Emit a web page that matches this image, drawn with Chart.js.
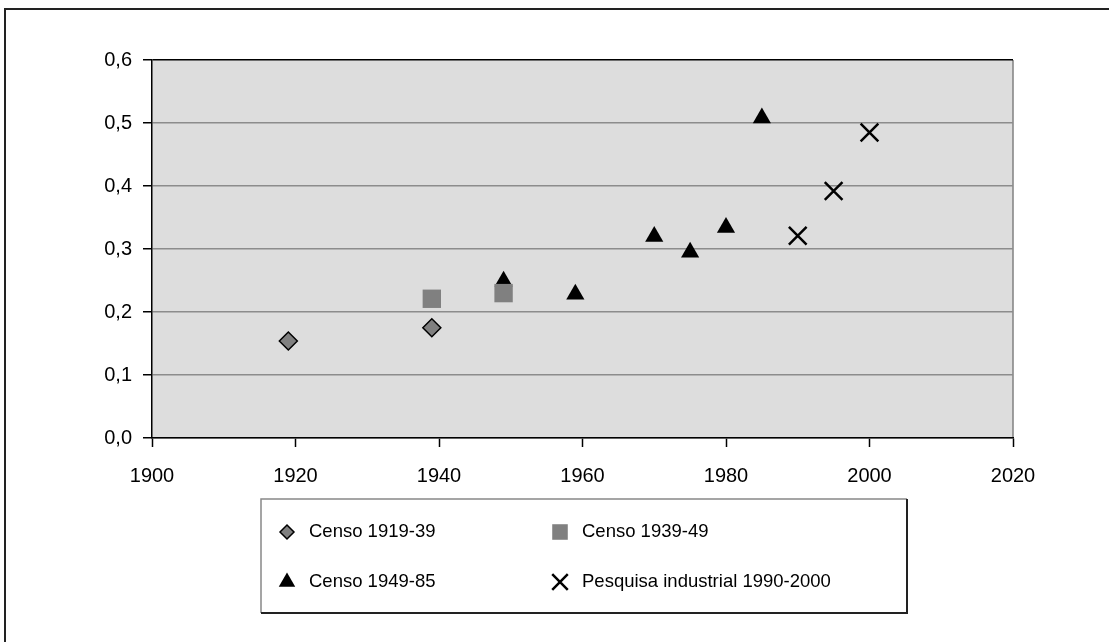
<!DOCTYPE html>
<html>
<head>
<meta charset="utf-8">
<script src="https://cdn.jsdelivr.net/npm/chart.js@4"></script>
<style>
    html, body { margin: 0; padding: 0; background: #ffffff; }
    #wrap { position: relative; width: 1109px; height: 642px; overflow: hidden; }
    #frame { position: absolute; left: 4px; top: 8px; width: 1200px; height: 700px;
             border-left: 2px solid #222; border-top: 2px solid #222; }
    #chartBox { position: absolute; left: 0; top: 0; width: 1109px; height: 642px; }
</style>
</head>
<body>
<div id="wrap">
    <div id="frame"></div>
    <div id="chartBox"><canvas id="scatterChart"></canvas></div>
</div>
<script>
// --- Data ---
const seriesNames = ['Censo 1919-39', 'Censo 1939-49', 'Censo 1949-85', 'Pesquisa industrial 1990-2000'];

const censo1919Years = [1919, 1939];
const censo1919Values = [0.154, 0.175];

const censo1939Years = [1939, 1949];
const censo1939Values = [0.221, 0.230];

const censo1949Years = [1949, 1959, 1970, 1975, 1980, 1985];
const censo1949Values = [0.249, 0.228, 0.320, 0.295, 0.334, 0.508];

const pesquisaYears = [1990, 1995, 2000];
const pesquisaValues = [0.321, 0.392, 0.485];

const xTicks = [1900, 1920, 1940, 1960, 1980, 2000, 2020];
const yTicks = [0, 0.1, 0.2, 0.3, 0.4, 0.5, 0.6];

const FONT = 'Liberation Sans, Arial, sans-serif';

function toPoints(xs, ys) {
    return xs.map((x, i) => ({ x: x, y: ys[i] }));
}

// Grey plot area fill + grey right border
const plotBackground = {
    id: 'plotBackground',
    beforeDraw(chart) {
        const { ctx, chartArea: a } = chart;
        ctx.save();
        ctx.fillStyle = '#dddddd';
        ctx.fillRect(a.left, a.top, a.right - a.left, a.bottom - a.top);
        ctx.strokeStyle = '#808080';
        ctx.lineWidth = 1.5;
        ctx.beginPath();
        ctx.moveTo(a.right, a.top);
        ctx.lineTo(a.right, a.bottom);
        ctx.stroke();
        ctx.restore();
    }
};

// Boxed legend in two columns, drawn under the plot
const boxLegend = {
    id: 'boxLegend',
    afterDraw(chart) {
        const ctx = chart.ctx;
        const box = { left: 261, top: 499, right: 907, bottom: 613 };
        ctx.save();
        ctx.strokeStyle = '#888888';
        ctx.lineWidth = 1.5;
        ctx.beginPath();
        ctx.moveTo(box.left, box.bottom);
        ctx.lineTo(box.left, box.top);
        ctx.lineTo(box.right, box.top);
        ctx.stroke();
        ctx.strokeStyle = '#222222';
        ctx.lineWidth = 2;
        ctx.beginPath();
        ctx.moveTo(box.right, box.top);
        ctx.lineTo(box.right, box.bottom);
        ctx.lineTo(box.left, box.bottom);
        ctx.stroke();

        const slots = [
            { x: 287, y: 532, r: 7 },
            { x: 560, y: 532, r: 11 },
            { x: 287, y: 582, r: 9.5 },
            { x: 560, y: 582, r: 11 }
        ];
        chart.data.datasets.forEach((ds, i) => {
            const s = slots[i];
            ctx.fillStyle = ds.backgroundColor;
            ctx.strokeStyle = ds.borderColor;
            ctx.lineWidth = ds.borderWidth;
            Chart.helpers.drawPoint(ctx, { pointStyle: ds.pointStyle, radius: s.r, rotation: 0, borderWidth: ds.borderWidth }, s.x, s.y);
            ctx.fillStyle = '#000000';
            ctx.font = '18.5px ' + FONT;
            ctx.textBaseline = 'middle';
            ctx.fillText(ds.label, s.x + 22, s.y);
        });
        ctx.restore();
    }
};

const ctx = document.getElementById('scatterChart');

new Chart(ctx, {
    type: 'scatter',
    data: {
        datasets: [
            {
                label: seriesNames[0],
                data: toPoints(censo1919Years, censo1919Values),
                pointStyle: 'rectRot',
                pointRadius: 9,
                backgroundColor: '#808080',
                borderColor: '#000000',
                borderWidth: 1.5
            },
            {
                label: seriesNames[1],
                data: toPoints(censo1939Years, censo1939Values),
                pointStyle: 'rect',
                pointRadius: 13,
                backgroundColor: '#808080',
                borderColor: '#808080',
                borderWidth: 0
            },
            {
                label: seriesNames[2],
                data: toPoints(censo1949Years, censo1949Values),
                pointStyle: 'triangle',
                pointRadius: 10.5,
                backgroundColor: '#000000',
                borderColor: '#000000',
                borderWidth: 0
            },
            {
                label: seriesNames[3],
                data: toPoints(pesquisaYears, pesquisaValues),
                pointStyle: 'crossRot',
                pointRadius: 12.5,
                backgroundColor: '#000000',
                borderColor: '#000000',
                borderWidth: 2.5
            }
        ]
    },
    options: {
        responsive: true,
        maintainAspectRatio: false,
        animation: false,
        layout: { padding: { top: 60, right: 96, left: 0, bottom: 0 } },
        plugins: {
            legend: { display: false },
            tooltip: { enabled: false }
        },
        scales: {
            x: {
                type: 'linear',
                min: 1900,
                max: 2020,
                afterBuildTicks: (axis) => { axis.ticks = xTicks.map(v => ({ value: v })); },
                afterFit: (axis) => { axis.height = 204; },
                border: { color: '#000000', width: 1.5 },
                grid: { drawOnChartArea: false, tickLength: 9, tickColor: '#000000', tickWidth: 1.5 },
                ticks: {
                    color: '#000000',
                    padding: 17,
                    font: { family: FONT, size: 20 },
                    callback: (v) => String(v)
                }
            },
            y: {
                min: 0,
                max: 0.6,
                afterBuildTicks: (axis) => { axis.ticks = yTicks.map(v => ({ value: v })); },
                afterFit: (axis) => { axis.width = 152; },
                border: { color: '#000000', width: 1.5 },
                grid: {
                    color: (c) => (c.tick && c.tick.value >= 0.59 ? '#000000' : '#8c8c8c'),
                    lineWidth: 1.5,
                    tickLength: 9,
                    tickColor: '#000000',
                    tickWidth: 1.5
                },
                ticks: {
                    color: '#000000',
                    padding: 11,
                    font: { family: FONT, size: 20 },
                    callback: (v) => v.toFixed(1).replace('.', ',')
                }
            }
        }
    },
    plugins: [plotBackground, boxLegend]
});
</script>
</body>
</html>
